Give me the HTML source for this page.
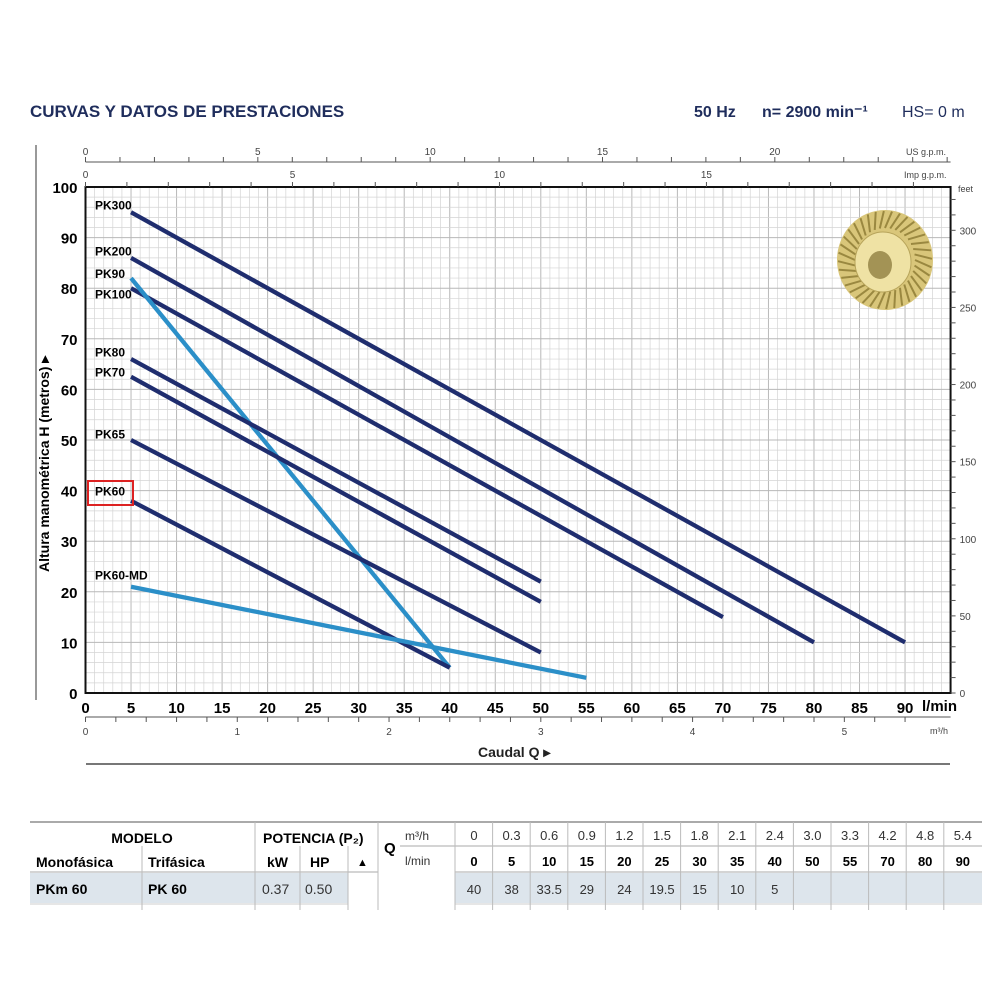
<!DOCTYPE html>
<html><head><meta charset="utf-8"><style>
body{margin:0;background:#fff;width:1000px;height:1000px;overflow:hidden;font-family:"Liberation Sans",sans-serif}
svg{position:absolute;left:0;top:0}
</style></head><body>
<svg id="c" width="1000" height="1000" font-family="Liberation Sans, sans-serif"></svg>
<script>
const curveNames=["PK300","PK200","PK100","PK90","PK80","PK70","PK65","PK60","PK60-MD"];
const curveQStart=[5,5,5,5,5,5,5,5,5];
const curveHStart=[95,86,80,82,66,62.5,50,38,21];
const curveQEnd=[90,80,70,40,50,50,50,40,55];
const curveHEnd=[10,10,15,5,22,18,8,5,3];
const curveLight=[0,0,0,1,0,0,0,0,1];
const xTicks=[0,5,10,15,20,25,30,35,40,45,50,55,60,65,70,75,80,85,90];
const yTicks=[0,10,20,30,40,50,60,70,80,90,100];
const m3hTicks=[0,1,2,3,4,5];
const usTicks=[0,5,10,15,20];
const impTicks=[0,5,10,15];
const feetTicks=[0,50,100,150,200,250,300];
const tableQm3=["0","0.3","0.6","0.9","1.2","1.5","1.8","2.1","2.4","3.0","3.3","4.2","4.8","5.4"];
const tableQl=["0","5","10","15","20","25","30","35","40","50","55","70","80","90"];
const tableH=["40","38","33.5","29","24","19.5","15","10","5","","","","",""];

const NS="http://www.w3.org/2000/svg";
const svg=document.getElementById('c');
const X=q=>85.5+q*9.106;
const Y=h=>693-h*5.06;
function el(t,a,txt,parent){const e=document.createElementNS(NS,t);for(const k in a)e.setAttribute(k,a[k]);if(txt!==undefined)e.textContent=txt;(parent||svg).appendChild(e);return e;}
function tx(x,y,s,o){return el('text',Object.assign({x:x,y:y},o||{}),s);}

let t;
t=tx(30,117,"CURVAS Y DATOS DE PRESTACIONES",{'font-size':17,'font-weight':'bold',fill:'#1f2d5c'});

t=tx(694,117,"50 Hz",{'font-size':16,'font-weight':'bold',fill:'#1f2d5c'});

t=tx(762,117,"n= 2900 min⁻¹",{'font-size':16,'font-weight':'bold',fill:'#1f2d5c'});

t=tx(902,117,"HS= 0 m",{'font-size':16,fill:'#1f2d5c'});


const g=el('g',{});

for(let q=0;q<=95;q+=1){el('line',{x1:X(q),x2:X(q),y1:Y(0),y2:Y(100),stroke:q%5?'#d4d4d4':'#b8b8b8','stroke-width':q%5?0.7:1},undefined,g);}
for(let h=0;h<=100;h+=2){el('line',{x1:X(0),x2:X(95),y1:Y(h),y2:Y(h),stroke:h%10?'#d4d4d4':'#b8b8b8','stroke-width':h%10?0.7:1},undefined,g);}
t=el('rect',{x:X(0),y:Y(100),width:X(95)-X(0),height:Y(0)-Y(100),fill:'none',stroke:'#111','stroke-width':2});

el('line',{x1:36,x2:36,y1:145,y2:700,stroke:'#333','stroke-width':1});

yTicks.forEach(v=>{const e=tx(X(0)-8,Y(v)+6,v,{'font-size':15,'font-weight':'bold','text-anchor':'end'});
});
xTicks.forEach(v=>{const e=tx(X(v),Y(0)+20,v,{'font-size':15,'font-weight':'bold','text-anchor':'middle'});
});
t=tx(922,711,"l/min",{'font-size':15,'font-weight':'bold'});
el('line',{x1:X(0),x2:X(95),y1:717,y2:717,stroke:'#555'});
for(let m=0;m<=5.6;m+=0.2){el('line',{x1:X(m*16.667),x2:X(m*16.667),y1:717,y2:722,stroke:'#555'});}
m3hTicks.forEach(v=>{const e=tx(X(v*16.667),735,v,{'font-size':10,fill:'#444','text-anchor':'middle'});
});
t=tx(930,734,"m³/h",{'font-size':9,fill:'#444'});
t=tx(478,757,"Caudal Q  ▸",{'font-size':14,'font-weight':'bold',fill:'#222'});
el('line',{x1:86,x2:950,y1:764,y2:764,stroke:'#777','stroke-width':2});
el('line',{x1:X(0),x2:X(95),y1:162,y2:162,stroke:'#555'});
for(let u=0;u<=25;u+=1){el('line',{x1:X(u*3.785),x2:X(u*3.785),y1:157,y2:162,stroke:'#555'});}
usTicks.forEach(v=>{const e=tx(X(v*3.785),155,v,{'font-size':10,fill:'#444','text-anchor':'middle'});
});
t=tx(906,155,"US g.p.m.",{'font-size':9,fill:'#444'});
for(let u=0;u<=20;u+=1){el('line',{x1:X(u*4.546),x2:X(u*4.546),y1:182,y2:187,stroke:'#555'});}
impTicks.forEach(v=>{const e=tx(X(v*4.546),178,v,{'font-size':10,fill:'#444','text-anchor':'middle'});
});
t=tx(904,178,"Imp g.p.m.",{'font-size':9,fill:'#444'});
for(let f=0;f<=320;f+=10){el('line',{x1:X(95),x2:X(95)+5,y1:Y(f*0.3048),y2:Y(f*0.3048),stroke:'#555'});}
feetTicks.forEach(v=>{const e=tx(X(95)+9,Y(v*0.3048)+4,v,{'font-size':10,fill:'#444'});
});
t=tx(958,192,"feet",{'font-size':9,fill:'#444'});
t=tx(0,0,"Altura manométrica H (metros)  ▸",{'font-size':14,'font-weight':'bold',transform:'translate(49,572) rotate(-90)'});


const imp=el('g',{});
el('ellipse',{cx:885,cy:260,rx:48,ry:50,fill:'#d9c67a'},undefined,imp);
for(let a=0;a<360;a+=10){const r=a*Math.PI/180;el('line',{x1:885+30*Math.cos(r),y1:260+32*Math.sin(r),x2:885+47*Math.cos(r+0.15),y2:260+49*Math.sin(r+0.15),stroke:'#9a8840','stroke-width':2},undefined,imp);}
el('ellipse',{cx:883,cy:262,rx:28,ry:30,fill:'#efe2a4',stroke:'#b7a45a'},undefined,imp);
el('ellipse',{cx:880,cy:265,rx:12,ry:14,fill:'#a39355'},undefined,imp);

curveNames.forEach((n,i)=>{
  const l=el('line',{x1:X(curveQStart[i]),y1:Y(curveHStart[i]),x2:X(curveQEnd[i]),y2:Y(curveHEnd[i]),stroke:curveLight[i]?'#2b8fc8':'#1f2d6e','stroke-width':4.3});
  
  
});
const lblH=[96.5,87.5,79,83,67.5,63.5,51.3,40,23.4];
curveNames.forEach((n,i)=>{
  const e=tx(95,Y(lblH[i])+5,n,{'font-size':12,'font-weight':'bold'});
  
  
});
t=el('rect',{x:88,y:481,width:45,height:24,fill:'none',stroke:'#d22','stroke-width':2});


const tb=el('g',{'font-family':'Liberation Sans, sans-serif'});
el('rect',{x:30,y:873,width:318,height:30,fill:'#dde5ec'},undefined,tb);
el('rect',{x:455,y:873,width:527,height:30,fill:'#dde5ec'},undefined,tb);
el('line',{x1:30,x2:982,y1:822,y2:822,stroke:'#aaa','stroke-width':2},undefined,tb);
el('line',{x1:30,x2:378,y1:872,y2:872,stroke:'#aaa'},undefined,tb);
el('line',{x1:455,x2:982,y1:872,y2:872,stroke:'#aaa'},undefined,tb);
el('line',{x1:400,x2:982,y1:846,y2:846,stroke:'#aaa'},undefined,tb);
el('line',{x1:30,x2:348,y1:904,y2:904,stroke:'#ccc'},undefined,tb);
el('line',{x1:455,x2:982,y1:904,y2:904,stroke:'#ccc'},undefined,tb);
[142,255,300,348,378].forEach(x=>el('line',{x1:x,x2:x,y1:x==142||x==300||x==348?846:822,y2:910,stroke:'#bbb'},undefined,tb));
el('line',{x1:255,x2:255,y1:822,y2:910,stroke:'#bbb'},undefined,tb);
for(let k=0;k<14;k++){el('line',{x1:455+37.6*k,x2:455+37.6*k,y1:822,y2:910,stroke:'#bbb'},undefined,tb);}
const T=(x,y,s,o)=>el('text',Object.assign({x:x,y:y,'font-size':14},o||{}),s,tb);
T(142,843,"MODELO",{'font-weight':'bold','text-anchor':'middle'});
T(263,843,"POTENCIA (P₂)",{'font-weight':'bold'});
T(36,867,"Monofásica",{'font-weight':'bold'});T(148,867,"Trifásica",{'font-weight':'bold'});
T(267,867,"kW",{'font-weight':'bold'});T(310,867,"HP",{'font-weight':'bold'});T(357,866,"▲",{'font-size':11});
T(384,853,"Q",{'font-weight':'bold','font-size':15});
T(405,840,"m³/h",{'font-size':12,fill:'#333'});T(405,865,"l/min",{'font-size':12,fill:'#333'});
T(36,894,"PKm 60",{'font-weight':'bold'});T(148,894,"PK 60",{'font-weight':'bold'});
T(262,894,"0.37",{fill:'#333'});T(305,894,"0.50",{fill:'#333'});
tableQm3.forEach((v,k)=>T(474+37.6*k,840,v,{'text-anchor':'middle','font-size':13,fill:'#333'}));
tableQl.forEach((v,k)=>T(474+37.6*k,866,v,{'text-anchor':'middle','font-size':13,'font-weight':'bold'}));
tableH.forEach((v,k)=>T(474+37.6*k,894,v,{'text-anchor':'middle','font-size':13,fill:'#333'}));
</script>
</body></html>
